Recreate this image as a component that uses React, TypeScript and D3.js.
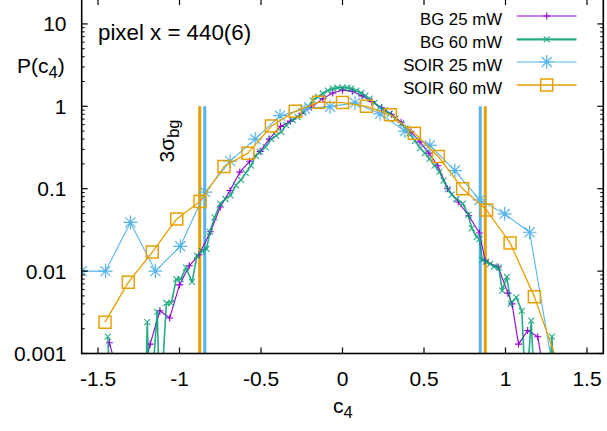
import React from 'react';
import * as d3 from 'd3';

const xTicks = [-1.5, -1, -0.5, 0, 0.5, 1, 1.5];
const xTickLabels = ['-1.5', '-1', '-0.5', '0', '0.5', '1', '1.5'];
const yTicks = [0.001, 0.01, 0.1, 1, 10];
const yTickLabels = ['0.001', '0.01', '0.1', '1', '10'];

const bg25X = [-1.43, -1.37, -1.24, -1.18, -1.12, -1.06, -1.0, -0.94, -0.88, -0.81, -0.75, -0.69, -0.63, -0.57, -0.505, -0.45, -0.38, -0.32, -0.25, -0.19, -0.12, -0.06, 0, 0.06, 0.12, 0.18, 0.24, 0.30, 0.36, 0.42, 0.475, 0.53, 0.585, 0.645, 0.71, 0.775, 0.84, 0.875, 0.955, 1.015, 1.04, 1.08, 1.136, 1.198, 1.24];
const bg25Y = [0.00135, 0.0005, 0.0004, 0.0013, 0.0033, 0.0027, 0.0068, 0.0116, 0.0158, 0.030, 0.060, 0.095, 0.159, 0.215, 0.284, 0.40, 0.57, 0.66, 0.82, 0.98, 1.24, 1.45, 1.57, 1.52, 1.34, 1.14, 0.96, 0.80, 0.64, 0.49, 0.37, 0.27, 0.19, 0.10, 0.069, 0.047, 0.029, 0.0134, 0.0112, 0.0054, 0.004, 0.0013, 0.0019, 0.0016, 0.0005];

const bg60X = [-1.44, -1.42, -1.21, -1.198, -1.18, -1.137, -1.12, -1.08, -1.05, -1.02, -0.993, -0.96, -0.923, -0.893, -0.862, -0.834, -0.813, -0.785, -0.75, -0.718, -0.687, -0.654, -0.623, -0.593, -0.562, -0.532, -0.507, -0.472, -0.437, -0.407, -0.376, -0.345, -0.305, -0.274, -0.24, -0.21, -0.182, -0.15, -0.12, -0.09, -0.06, -0.03, 0, 0.03, 0.053, 0.085, 0.115, 0.14, 0.166, 0.197, 0.227, 0.26, 0.29, 0.325, 0.36, 0.385, 0.41, 0.445, 0.477, 0.505, 0.534, 0.565, 0.595, 0.62, 0.646, 0.67, 0.698, 0.738, 0.773, 0.793, 0.824, 0.84, 0.857, 0.88, 0.906, 0.93, 0.959, 0.98, 1.008, 1.033, 1.066, 1.10, 1.125, 1.158, 1.18, 1.26, 1.285, 1.30];
const bg60Y = [0.0016, 0.0002, 0.0002, 0.0024, 0.0002, 0.0032, 0.0002, 0.0041, 0.0041, 0.008, 0.008, 0.011, 0.0074, 0.0154, 0.0175, 0.0186, 0.030, 0.045, 0.066, 0.075, 0.083, 0.11, 0.128, 0.155, 0.19, 0.25, 0.28, 0.32, 0.40, 0.44, 0.49, 0.59, 0.68, 0.74, 0.85, 1.0, 1.18, 1.30, 1.43, 1.55, 1.64, 1.68, 1.69, 1.68, 1.64, 1.55, 1.45, 1.35, 1.24, 1.10, 0.98, 0.89, 0.81, 0.71, 0.62, 0.54, 0.47, 0.38, 0.31, 0.27, 0.23, 0.19, 0.16, 0.125, 0.099, 0.085, 0.075, 0.066, 0.048, 0.033, 0.026, 0.0245, 0.0137, 0.013, 0.0122, 0.0113, 0.011, 0.0058, 0.0085, 0.004, 0.0048, 0.0033, 0.0003, 0.0025, 0.0003, 0.0003, 0.0016, 0.0003];

const soir25X = [-1.6, -1.454, -1.301, -1.148, -0.995, -0.842, -0.689, -0.536, -0.383, -0.23, -0.077, 0.077, 0.23, 0.383, 0.536, 0.689, 0.842, 0.995, 1.148, 1.301];
const soir25Y = [0.01, 0.01, 0.039, 0.01, 0.020, 0.091, 0.216, 0.40, 0.77, 0.93, 0.99, 1.10, 0.81, 0.50, 0.335, 0.166, 0.073, 0.0495, 0.0296, 0.0005];

const soir60X = [-1.457, -1.314, -1.167, -1.017, -0.874, -0.727, -0.58, -0.436, -0.29, -0.146, 0, 0.147, 0.294, 0.441, 0.588, 0.737, 0.884, 1.028, 1.177, 1.323];
const soir60Y = [0.0024, 0.0073, 0.017, 0.043, 0.070, 0.186, 0.27, 0.576, 0.87, 1.12, 1.11, 1.0, 0.79, 0.47, 0.246, 0.10, 0.055, 0.022, 0.0049, 0.00074];

const sigmaSoir25 = [-0.845, 0.845];
const sigmaSoir60 = [-0.876, 0.876];
const sigmaTop = 1;

const seriesLabels = ['BG 25 mW', 'BG 60 mW', 'SOIR 25 mW', 'SOIR 60 mW'];

const W = 607;
const H = 431;
const L = 81.7, R = 603.3, T = -0.9, B = 353.5;
const FONT = "'Liberation Sans', Arial, Helvetica, sans-serif";

type Marker = 'plus' | 'cross' | 'star' | 'square';

function markerPath(m: Marker, x: number, y: number, s: number): string {
  if (m === 'plus') return `M${x - s},${y}H${x + s}M${x},${y - s}V${y + s}`;
  if (m === 'cross') return `M${x - s},${y - s}L${x + s},${y + s}M${x - s},${y + s}L${x + s},${y - s}`;
  if (m === 'star') {
    const c = s * 0.72;
    return `M${x - s},${y}H${x + s}M${x},${y - s}V${y + s}M${x - c},${y - c}L${x + c},${y + c}M${x - c},${y + c}L${x + c},${y - c}`;
  }
  return `M${x - s},${y - s}H${x + s}V${y + s}H${x - s}Z`;
}

export default function App() {
  const x = d3.scaleLinear().domain([-1.6, 1.6]).range([L, R]);
  const y = d3.scaleLog().domain([0.001, 20]).range([B, T]);

  const series = [
    { xs: bg25X, ys: bg25Y, color: '#9400D3', width: 1.1, marker: 'plus' as Marker, size: 3.5, mw: 1.1, opacity: 1 },
    { xs: bg60X, ys: bg60Y, color: '#009E73', width: 1.6, marker: 'cross' as Marker, size: 3, mw: 1.1, opacity: 0.85 },
    { xs: soir25X, ys: soir25Y, color: '#56B4E9', width: 1.1, marker: 'star' as Marker, size: 7, mw: 1.2, opacity: 1 },
    { xs: soir60X, ys: soir60Y, color: '#E69F00', width: 1.3, marker: 'square' as Marker, size: 6, mw: 1.5, opacity: 1 },
  ];

  const line = d3.line<[number, number]>().x(d => x(d[0])).y(d => y(d[1]));

  const minor: number[] = [];
  for (let e = -3; e <= 1; e++) {
    for (let k = 2; k <= 9; k++) {
      const v = k * Math.pow(10, e);
      if (v <= 20) minor.push(v);
    }
  }

  const legendRows = [16, 39.3, 62, 85];

  return (
    <svg width={W} height={H} style={{ position: 'absolute', left: 0, top: 0, background: '#fff' }} fontFamily={FONT}>
      <defs>
        <clipPath id="plotclip">
          <rect x={L} y={T} width={R - L} height={B - T} />
        </clipPath>
      </defs>
      <rect x={0} y={0} width={W} height={H} fill="#fff" />

      <g clipPath="url(#plotclip)">
        {sigmaSoir25.map((v, i) => (
          <line key={'b' + i} x1={x(v)} x2={x(v)} y1={y(sigmaTop)} y2={B} stroke="#56B4E9" strokeWidth={3} />
        ))}
        {sigmaSoir60.map((v, i) => (
          <line key={'o' + i} x1={x(v)} x2={x(v)} y1={y(sigmaTop)} y2={B} stroke="#E69F00" strokeWidth={3} />
        ))}
        {series.map((s, si) => {
          const pts: [number, number][] = s.xs.map((xv, i) => [xv, s.ys[i]]);
          return (
            <g key={si} opacity={s.opacity}>
              <path d={line(pts) || ''} fill="none" stroke={s.color} strokeWidth={s.width} strokeLinejoin="round" />
              <path d={pts.map(p => markerPath(s.marker, x(p[0]), y(p[1]), s.size)).join('')} fill="none" stroke={s.color} strokeWidth={s.mw} />
            </g>
          );
        })}
      </g>

      {/* border */}
      <rect x={L} y={T} width={R - L} height={B - T} fill="none" stroke="#000" strokeWidth={1.6} />

      {/* x ticks */}
      {xTicks.map((t, i) => (
        <g key={'xt' + i}>
          <line x1={x(t)} x2={x(t)} y1={B} y2={B - 6} stroke="#000" strokeWidth={1.2} />
          <line x1={x(t)} x2={x(t)} y1={T} y2={T + 6} stroke="#000" strokeWidth={1.2} />
          <text x={x(t)} y={B + 32.5} textAnchor="middle" fontSize={21} fill="#000">{xTickLabels[i]}</text>
        </g>
      ))}

      {/* y ticks */}
      {yTicks.map((t, i) => (
        <g key={'yt' + i}>
          <line x1={L} x2={L + 6} y1={y(t)} y2={y(t)} stroke="#000" strokeWidth={1.2} />
          <line x1={R} x2={R - 6} y1={y(t)} y2={y(t)} stroke="#000" strokeWidth={1.2} />
          <text x={66.5} y={y(t)} dy="0.36em" textAnchor="end" fontSize={21} fill="#000">{yTickLabels[i]}</text>
        </g>
      ))}
      {minor.map((t, i) => (
        <g key={'ym' + i}>
          <line x1={L} x2={L + 3} y1={y(t)} y2={y(t)} stroke="#000" strokeWidth={1} />
          <line x1={R} x2={R - 3} y1={y(t)} y2={y(t)} stroke="#000" strokeWidth={1} />
        </g>
      ))}

      {/* axis labels */}
      <text x={17} y={72.5} fontSize={21} fill="#000">
        P(c<tspan dy={5} fontSize={16.5}>4</tspan><tspan dy={-5}>)</tspan>
      </text>
      <text x={333} y={413} fontSize={21} fill="#000">
        c<tspan dy={5} fontSize={16.5}>4</tspan>
      </text>
      <text x={98} y={39.5} fontSize={22.3} fill="#000">pixel x = 440(6)</text>

      <text transform={`translate(173.5,162.5) rotate(-90)`} fontSize={21} fill="#000">
        3σ<tspan dy={5} fontSize={16.5}>bg</tspan>
      </text>

      {/* legend */}
      {series.map((s, i) => {
        const ly = legendRows[i];
        return (
          <g key={'lg' + i}>
            <text x={502} y={ly + 8.8} textAnchor="end" fontSize={16.8} fill="#000">{seriesLabels[i]}</text>
            <g opacity={s.opacity}>
              <line x1={516.7} x2={576.5} y1={ly} y2={ly} stroke={s.color} strokeWidth={i === 1 ? 2.2 : s.width} />
              <path d={markerPath(s.marker, 546.7, ly, s.size)} fill="none" stroke={s.color} strokeWidth={s.mw} />
            </g>
          </g>
        );
      })}
    </svg>
  );
}
